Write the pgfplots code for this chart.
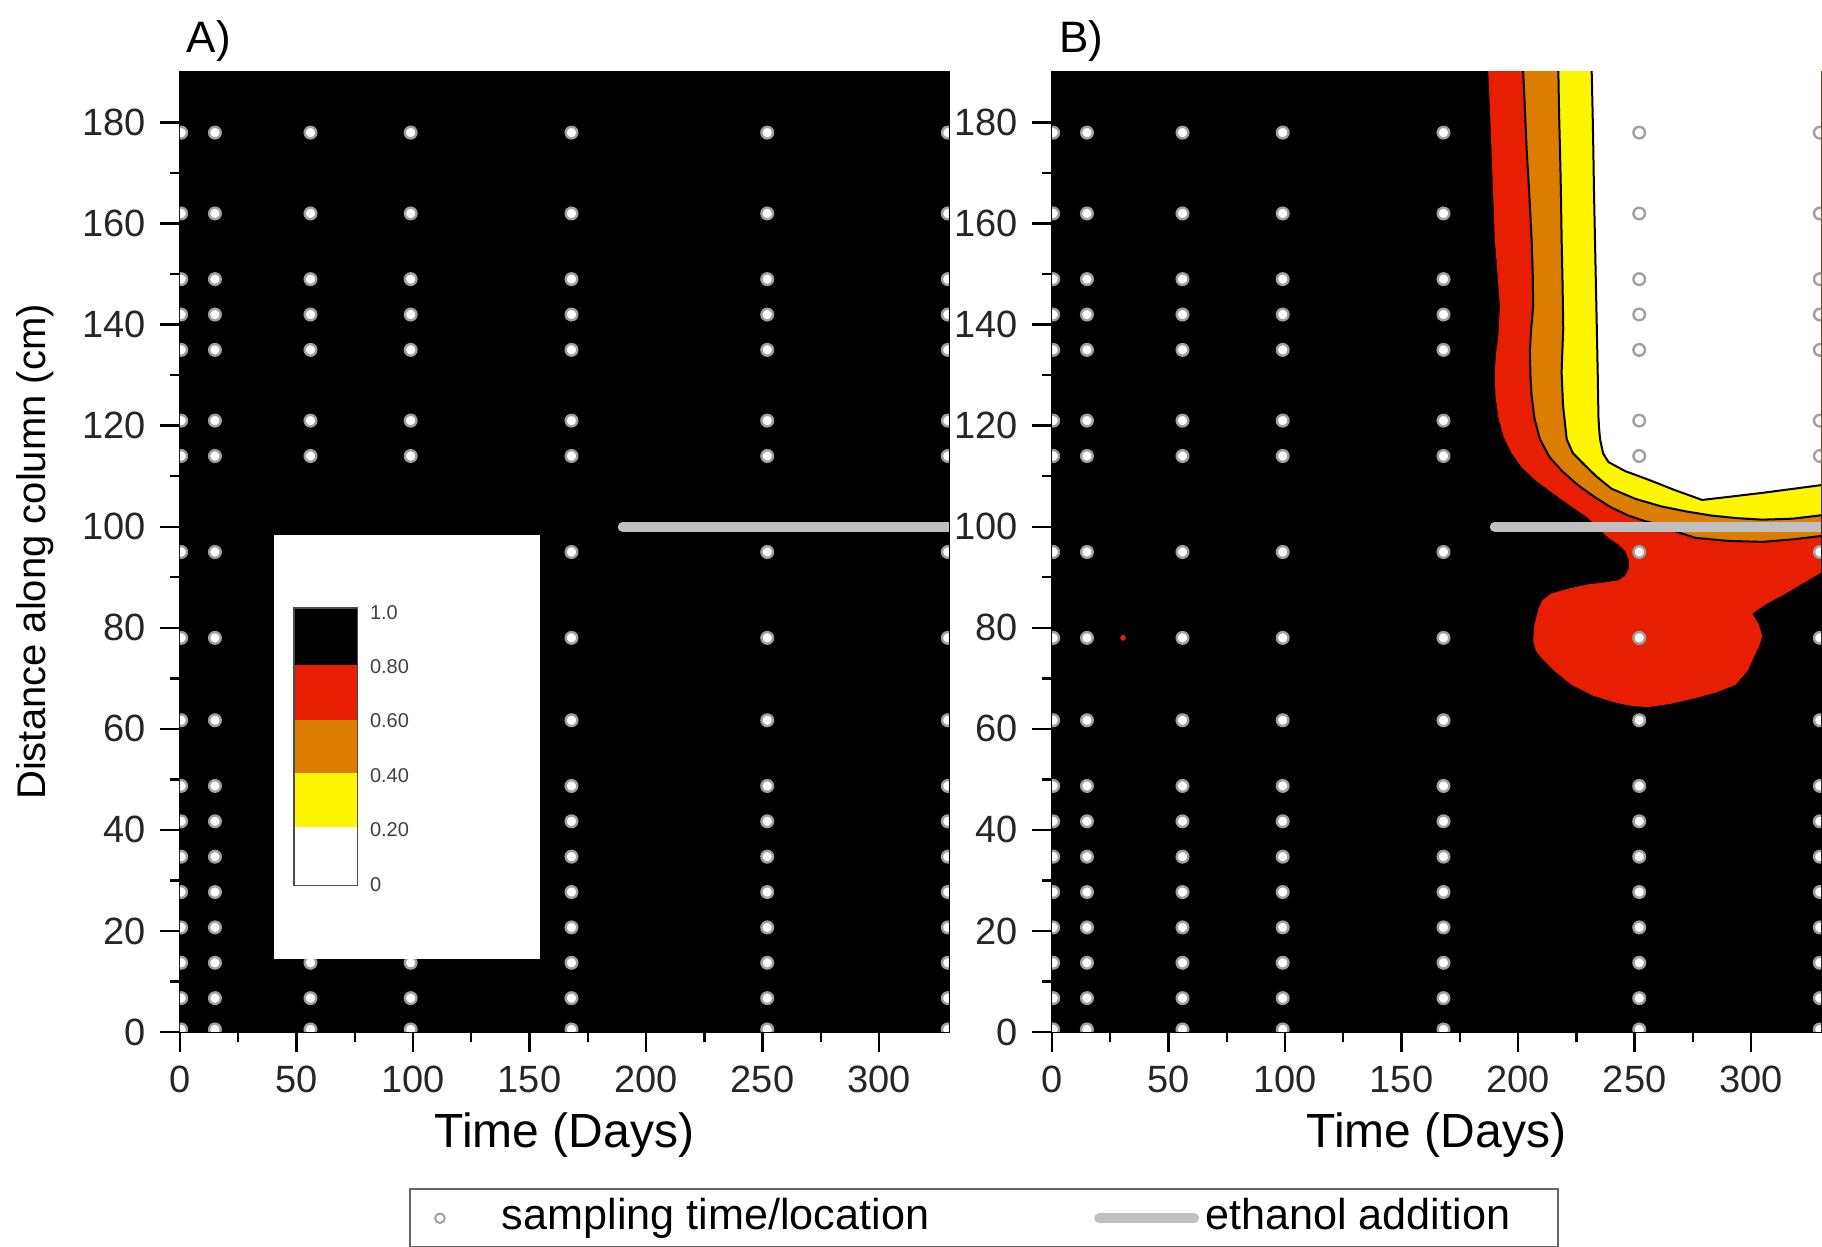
\documentclass[border=0pt]{standalone}
\usepackage{pgfplots}
\pgfplotsset{compat=1.18}
\usepackage{pgfplotstable}
\usepackage{fontspec}
\setmainfont{Liberation Sans}

\definecolor{cRed}{RGB}{232,30,0}
\definecolor{cOrange}{RGB}{218,125,0}
\definecolor{cYellow}{RGB}{255,245,0}
\definecolor{ethgray}{RGB}{192,192,192}
\definecolor{ringgray}{RGB}{160,160,160}

% sampling grid (time, depth)
\pgfplotstableread[row sep=\\]{
x y\\
0.5 0.5\\ 0.5 6.7\\ 0.5 13.7\\ 0.5 20.7\\ 0.5 27.7\\ 0.5 34.7\\ 0.5 41.7\\ 0.5 48.7\\ 0.5 61.7\\ 0.5 78\\ 0.5 95\\ 0.5 114\\ 0.5 121\\ 0.5 135\\ 0.5 142\\ 0.5 149\\ 0.5 162\\ 0.5 178\\
15 0.5\\ 15 6.7\\ 15 13.7\\ 15 20.7\\ 15 27.7\\ 15 34.7\\ 15 41.7\\ 15 48.7\\ 15 61.7\\ 15 78\\ 15 95\\ 15 114\\ 15 121\\ 15 135\\ 15 142\\ 15 149\\ 15 162\\ 15 178\\
56 0.5\\ 56 6.7\\ 56 13.7\\ 56 20.7\\ 56 27.7\\ 56 34.7\\ 56 41.7\\ 56 48.7\\ 56 61.7\\ 56 78\\ 56 95\\ 56 114\\ 56 121\\ 56 135\\ 56 142\\ 56 149\\ 56 162\\ 56 178\\
99 0.5\\ 99 6.7\\ 99 13.7\\ 99 20.7\\ 99 27.7\\ 99 34.7\\ 99 41.7\\ 99 48.7\\ 99 61.7\\ 99 78\\ 99 95\\ 99 114\\ 99 121\\ 99 135\\ 99 142\\ 99 149\\ 99 162\\ 99 178\\
168 0.5\\ 168 6.7\\ 168 13.7\\ 168 20.7\\ 168 27.7\\ 168 34.7\\ 168 41.7\\ 168 48.7\\ 168 61.7\\ 168 78\\ 168 95\\ 168 114\\ 168 121\\ 168 135\\ 168 142\\ 168 149\\ 168 162\\ 168 178\\
252 0.5\\ 252 6.7\\ 252 13.7\\ 252 20.7\\ 252 27.7\\ 252 34.7\\ 252 41.7\\ 252 48.7\\ 252 61.7\\ 252 78\\ 252 95\\ 252 114\\ 252 121\\ 252 135\\ 252 142\\ 252 149\\ 252 162\\ 252 178\\
329.5 0.5\\ 329.5 6.7\\ 329.5 13.7\\ 329.5 20.7\\ 329.5 27.7\\ 329.5 34.7\\ 329.5 41.7\\ 329.5 48.7\\ 329.5 61.7\\ 329.5 78\\ 329.5 95\\ 329.5 114\\ 329.5 121\\ 329.5 135\\ 329.5 142\\ 329.5 149\\ 329.5 162\\ 329.5 178\\
}\samptab

\pgfplotsset{
  panel/.style={
    scale only axis, width=192.25bp, height=240bp,
    xmin=0, xmax=330, ymin=0, ymax=190,
    xtick={0,50,...,300}, ytick={0,20,...,180},
    minor x tick num=1, minor y tick num=1,
    xtick pos=bottom, ytick pos=left,
    tick align=outside,
    major tick length=5bp, minor tick length=2.5bp,
    tick style={black, line width=0.6bp},
    axis line style={black, line width=0.6bp},
    axis background/.style={fill=black},
    tick label style={font=\fontsize{9.5bp}{11bp}\selectfont, black!85},
    /pgf/number format/assume math mode=true,
    xlabel={Time (Days)},
    xlabel style={font=\fontsize{12bp}{14bp}\selectfont, at={(0.5,-0.107)}, anchor=center},
    every axis title/.style={font=\fontsize{11bp}{13bp}\selectfont,
      at={(0.0377,1.032)}, anchor=center},
    clip marker paths=true,
  },
  samp/.style={only marks, mark=*, mark size=1.45bp,
    mark options={draw=ringgray, fill=white, line width=0.6bp}, forget plot},
  eth/.style={ethgray, line width=2.5bp, line cap=round, forget plot},
}

\begin{document}
\begin{tikzpicture}

% ---- A) ----
\begin{axis}[panel, title={A)},
    ylabel={Distance along column (cm)},
    ylabel style={font=\fontsize{10bp}{12bp}\selectfont, at={(-0.1886,0.5)}, anchor=center},
    legend columns=2,
    legend cell align=left,
    legend style={at={(0.298,-0.1625)}, anchor=north west,
      draw=black!60, line width=0.5bp, fill=white,
      font=\fontsize{10.8bp}{13bp}\selectfont,
      inner xsep=6bp, inner ysep=2.3bp,
      nodes={inner sep=0pt, text depth=0.22em},
      /tikz/every even column/.append style={column sep=41.2bp}},
]
\addlegendimage{legend image code/.code={
  \path[draw=none] (0,0) -- (16.75bp,0);
  \draw[ringgray, line width=0.5bp, fill=white] (1.25bp,0) circle (1.2bp);}}
\addlegendentry{sampling time/location}
\addlegendimage{legend image code/.code={
  \path[draw=none] (0,0) -- (27.75bp,0);
  \draw[ethgray, line width=2.5bp, line cap=round] (1.25bp,0) -- (25bp,0);}}
\addlegendentry{ethanol addition\hspace*{6bp}}

\addplot[samp] table {\samptab};
\addplot[eth] coordinates {(190,100) (330,100)};

% colour key inset
\fill[white] (40.4,14.5) rectangle (154.5,98.4);
\fill[black] (48.8,72.6) rectangle (76.2,83.9);
\fill[cRed] (48.8,61.8) rectangle (76.2,72.6);
\fill[cOrange] (48.8,51.3) rectangle (76.2,61.8);
\fill[cYellow] (48.8,40.5) rectangle (76.2,51.3);
\draw[black!70, line width=0.4bp] (48.8,29) rectangle (76.2,83.9);
\begin{scope}[every node/.style={anchor=west, inner sep=0pt, text=black!75,
    font=\fontsize{5bp}{6bp}\selectfont}]
\node at (81.2,83) {1.0};
\node at (81.2,72.4) {0.80};
\node at (81.2,61.6) {0.60};
\node at (81.2,50.8) {0.40};
\node at (81.2,40) {0.20};
\node at (81.2,29.2) {0};
\end{scope}
\end{axis}

% ---- B) ----
\begin{axis}[panel, at={(218bp,0)}, title={B)}]
% contour bands (fraction of initial value)
\addplot[fill=cRed, draw=none, forget plot] coordinates {
 (187,196) (187.2,190) (188,182) (188.6,174.6) (189.3,166) (190,157) (191.2,150)
 (192.2,143.7) (191.8,140) (191.5,137.6) (190.5,134) (190,130.5) (190.3,126)
 (191.5,121.7) (193.8,117.8) (197.2,114.6) (201.5,111.8) (207.2,109.3) (215,106.6)
 (223,104) (229,102.1) (233,100.5) (236,99) (238.8,97.8) (243,96.5) (246,95.2)
 (247.6,93.3) (247.4,91.6) (245.8,90.2) (243.1,89.4) (236,88.9) (230.2,88.6)
 (222,87.8) (214.4,86.8) (210.5,85.5) (208.7,83.7) (207,80.5) (206.5,77.5)
 (207.6,75.5) (210.1,74) (216,71.3) (223,68.7) (232,66.6) (241.7,65.2) (249,64.5)
 (256,64.3) (266,65) (276.1,66.1) (285,67.2) (293.3,68.7) (298.5,71.5) (301.9,74.9)
 (303.8,76.8) (304.8,78.4) (303.2,80.8) (300.5,82.8) (306.5,84.7) (313.4,86.4)
 (320,88.2) (326.3,89.9) (336,92.5) (336,196)
} -- cycle;
\addplot[fill=cOrange, draw=black, line width=0.5bp, forget plot] coordinates {
 (202,196) (202.2,190) (203,182) (203.7,174.6) (204.8,166) (205.8,157) (206.3,150)
 (206.5,143.7) (205.6,139) (205.1,134.9) (205.3,130) (205.8,126.1) (207,121.5)
 (209.4,117.3) (213.5,113.8) (218.7,111.1) (225.5,108.3) (233.1,105.8) (240,103.8)
 (247.4,102.2) (254.5,101.1) (261.7,100.3) (268,99) (276.1,97.8) (290,97.2)
 (304.8,97) (318,97.5) (336,98.5) (336,196)
} -- cycle;
\addplot[fill=cYellow, draw=black, line width=0.5bp, forget plot] coordinates {
 (217,196) (217.3,190) (217.6,182) (218,174.6) (218.4,166) (218.7,157) (219.1,148)
 (219.4,139.3) (219,134.5) (218.7,130.5) (219.3,124) (220.9,117.3) (223.5,114.6)
 (227.3,112.8) (233.5,110) (240.2,107.5) (250.5,105.5) (261.7,104) (272.5,103)
 (283.2,102.2) (294,101.7) (304.8,101.4) (318,101.6) (336,102.6) (336,196)
} -- cycle;
\addplot[fill=white, draw=black, line width=0.5bp, forget plot] coordinates {
 (231.5,196) (231.6,190) (232,182) (232.3,174.6) (232.6,166) (233,157) (233.4,148)
 (233.8,139.3) (234.2,130) (234.5,121.7) (234.8,119.3) (235.2,117.3) (236.5,114.5)
 (238.8,112.8) (246,111) (256,109.3) (267,107.3) (279,105.3) (292,106) (304.8,106.7)
 (318,107.5) (336,108.6) (336,196)
} -- cycle;
\addplot[only marks, mark=*, mark size=0.5bp, cRed, forget plot] coordinates {(30.5,78)};

\addplot[eth] coordinates {(190,100) (330,100)};
\addplot[samp] table {\samptab};
\end{axis}

\pgfresetboundingbox
\useasboundingbox (-45bp,-53.75bp) rectangle (410.5bp,258bp);
\end{tikzpicture}
\end{document}
